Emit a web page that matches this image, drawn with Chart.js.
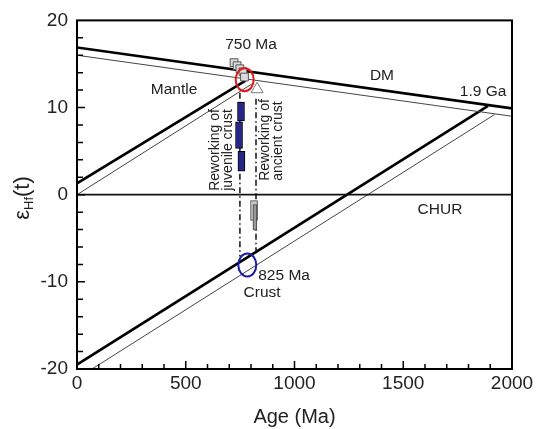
<!DOCTYPE html>
<html>
<head>
<meta charset="utf-8">
<script src="https://cdn.jsdelivr.net/npm/chart.js@4.4.0/dist/chart.umd.min.js"></script>
<style>
  html, body { margin: 0; padding: 0; background: #fff; }
</style>
</head>
<body>
<canvas id="hfChart" width="541" height="429"></canvas>
<script>
// evolution lines (age in Ma, epsilon Hf)
const dmAge = [0, 2000];
const dmEps = [16.9, 9.9];
const dmThinEps = [16.0, 9.0];
const churAge = [0, 2000];
const churEps = [0, 0];
const mantleAge = [0, 775];
const mantleEps = [1.3, 13.1];
const mantleThinAge = [0, 810];
const mantleThinEps = [0, 12.8];
const crustAge = [0, 1890];
const crustEps = [-19.5, 10.2];
const crustThinAge = [69, 1920];
const crustThinEps = [-20, 9.2];

// zircon data
const squareAge = [722, 736, 749, 763, 770];
const squareEps = [15.15, 14.8, 14.45, 14.1, 13.5];
const triangleAge = [828];
const triangleEps = [12.1];
const juvenileAge = [754, 745, 756];
const juvenileLo = [8.47, 5.31, 2.71];
const juvenileHi = [10.62, 8.36, 4.97];
const ancientAge = [814];
const ancientLo = [-2.94];
const ancientHi = [-0.68];
const ancientAge2 = [818];
const ancientLo2 = [-4.07];
const ancientHi2 = [-1.13];

// dash-dot guides
const guideAge = [749, 823];
const guideTop = [11.7, 11.0];
const guideBottom = [-7.1, -6.9];

// highlighted points (circled)
const ringAge = [771, 783];
const ringEps = [13.2, -8.06];

// labels
const noteText = ['750 Ma', 'Mantle', 'DM', '1.9 Ga', 'CHUR', '825 Ma', 'Crust'];
const noteAge = [800, 446, 1402, 1867, 1669, 952, 851];
const noteEps = [17.2, 12.0, 13.6, 11.8, -1.7, -9.3, -11.3];
const rotText = ['Reworking of', 'juvenile crust', 'Reworking of', 'ancient crust'];
const rotAge = [637, 694, 864, 926];
const rotEps = [0.45, 0.45, 1.6, 1.6];

const xTicks = [0, 500, 1000, 1500, 2000];
const yTicks = [-20, -10, 0, 10, 20];

const FONT = 'Arial, "Liberation Sans", Helvetica, sans-serif';

function pts(xs, ys) {
    return xs.map((v, i) => ({ x: v, y: ys[i] }));
}

function lineSet(xs, ys, width, color, order) {
    return {
        type: 'scatter',
        data: pts(xs, ys),
        showLine: true,
        borderColor: color,
        borderWidth: width,
        pointRadius: 0,
        order: order
    };
}

const datasets = [
    lineSet(dmAge, dmEps, 2.6, '#000', 10),
    lineSet(dmAge, dmThinEps, 1, '#444', 10),
    lineSet(churAge, churEps, 1.8, '#111', 10),
    lineSet(mantleAge, mantleEps, 2.6, '#000', 10),
    lineSet(mantleThinAge, mantleThinEps, 1, '#444', 10),
    lineSet(crustAge, crustEps, 2.6, '#000', 10),
    lineSet(crustThinAge, crustThinEps, 1, '#444', 10)
];

guideAge.forEach((a, i) => {
    const g = lineSet([a, a], [guideTop[i], guideBottom[i]], 1.5, '#111', 8);
    g.borderDash = [6, 3, 1.5, 3];
    datasets.push(g);
});

datasets.push({
    type: 'bar',
    data: juvenileAge.map((a, i) => ({ x: a, y: [juvenileLo[i], juvenileHi[i]] })),
    backgroundColor: '#27278a',
    borderColor: '#000',
    borderWidth: 1,
    borderSkipped: false,
    barThickness: 7,
    grouped: false,
    order: 4
});
datasets.push({
    type: 'bar',
    data: ancientAge.map((a, i) => ({ x: a, y: [ancientLo[i], ancientHi[i]] })),
    backgroundColor: '#c8c8c8',
    borderColor: '#444',
    borderWidth: 1,
    borderSkipped: false,
    barThickness: 7,
    grouped: false,
    order: 5
});
datasets.push({
    type: 'bar',
    data: ancientAge2.map((a, i) => ({ x: a, y: [ancientLo2[i], ancientHi2[i]] })),
    backgroundColor: '#9a9a9a',
    borderColor: '#444',
    borderWidth: 1,
    borderSkipped: false,
    barThickness: 4,
    grouped: false,
    order: 4
});
datasets.push({
    type: 'scatter',
    data: pts(squareAge, squareEps),
    pointStyle: 'rect',
    pointRadius: 5.5,
    backgroundColor: '#dcdcdc',
    borderColor: '#555',
    borderWidth: 1,
    order: 3
});
datasets.push({
    type: 'scatter',
    data: pts(triangleAge, triangleEps),
    pointStyle: 'triangle',
    pointRadius: 7,
    backgroundColor: '#fff',
    borderColor: '#777',
    borderWidth: 1,
    order: 2
});

const ringColors = ['#e01818', '#1a1aa8'];

const decorPlugin = {
    id: 'decor',
    afterDatasetsDraw(chart) {
        const { ctx, scales: { x, y } } = chart;
        // circled points
        ringAge.forEach((a, i) => {
            ctx.save();
            ctx.beginPath();
            ctx.ellipse(x.getPixelForValue(a), y.getPixelForValue(ringEps[i]), 9, 11.5, 0, 0, Math.PI * 2);
            ctx.strokeStyle = ringColors[i];
            ctx.lineWidth = 2;
            ctx.stroke();
            ctx.restore();
        });
    },
    afterDraw(chart) {
        const { ctx, chartArea: { left, right, top, bottom }, scales: { x, y } } = chart;
        ctx.save();
        // frame
        ctx.strokeStyle = '#000';
        ctx.lineWidth = 2;
        ctx.strokeRect(left, top, right - left, bottom - top);

        // inward ticks
        ctx.lineWidth = 1.5;
        ctx.beginPath();
        for (let v = 100; v < 2000; v += 100) {
            const px = x.getPixelForValue(v);
            const len = v % 500 === 0 ? 8 : 5;
            ctx.moveTo(px, bottom);
            ctx.lineTo(px, bottom - len);
        }
        for (let v = -18; v < 20; v += 2) {
            const py = y.getPixelForValue(v);
            const len = v % 10 === 0 ? 8 : 6;
            ctx.moveTo(left, py);
            ctx.lineTo(left + len, py);
        }
        ctx.stroke();

        // labels on the plot
        ctx.fillStyle = '#222';
        ctx.font = '15.5px ' + FONT;
        ctx.textAlign = 'center';
        ctx.textBaseline = 'middle';
        noteText.forEach((t, i) => {
            ctx.fillText(t, x.getPixelForValue(noteAge[i]), y.getPixelForValue(noteEps[i]));
        });

        ctx.font = '14px ' + FONT;
        ctx.textAlign = 'left';
        rotText.forEach((t, i) => {
            ctx.save();
            ctx.translate(x.getPixelForValue(rotAge[i]), y.getPixelForValue(rotEps[i]));
            ctx.rotate(-Math.PI / 2);
            ctx.fillText(t, 0, 0);
            ctx.restore();
        });

        // axis titles
        ctx.font = '20px ' + FONT;
        ctx.textAlign = 'center';
        ctx.textBaseline = 'alphabetic';
        ctx.fillText('Age (Ma)', (left + right) / 2, 423);

        ctx.save();
        ctx.translate(29, 198);
        ctx.rotate(-Math.PI / 2);
        ctx.textAlign = 'left';
        ctx.font = '22px ' + FONT;
        const w1 = ctx.measureText('\u03b5').width;
        const w3 = ctx.measureText('(t)').width;
        ctx.font = '13px ' + FONT;
        const w2 = ctx.measureText('Hf').width;
        let cx = -(w1 + w2 + w3) / 2;
        ctx.font = '22px ' + FONT;
        ctx.fillText('\u03b5', cx, 0);
        cx += w1;
        ctx.font = '13px ' + FONT;
        ctx.fillText('Hf', cx, 4);
        cx += w2;
        ctx.font = '22px ' + FONT;
        ctx.fillText('(t)', cx, 0);
        ctx.restore();

        ctx.restore();
    }
};

const ctx1 = document.querySelector('#hfChart').getContext('2d');

const chart1 = new Chart(ctx1, {
    type: 'scatter',
    data: { datasets: datasets },
    options: {
        responsive: false,
        animation: false,
        devicePixelRatio: 1,
        layout: { padding: { top: 15, right: 29, left: 0, bottom: 0 } },
        plugins: {
            legend: { display: false },
            tooltip: { enabled: false }
        },
        scales: {
            x: {
                type: 'linear',
                min: 0,
                max: 2000,
                offset: false,
                afterBuildTicks: s => { s.ticks = xTicks.map(v => ({ value: v })); },
                afterFit: s => { s.height = 60; },
                grid: { display: false, drawTicks: false },
                border: { display: false },
                ticks: {
                    padding: 3,
                    maxRotation: 0,
                    color: '#222',
                    font: { family: FONT, size: 19 },
                    callback: v => String(v)
                }
            },
            y: {
                type: 'linear',
                min: -20,
                max: 20,
                afterBuildTicks: s => { s.ticks = yTicks.map(v => ({ value: v })); },
                afterFit: s => { s.width = 77; },
                grid: { display: false, drawTicks: false },
                border: { display: false },
                ticks: {
                    padding: 9,
                    color: '#222',
                    font: { family: FONT, size: 19 },
                    callback: v => String(v)
                }
            }
        }
    },
    plugins: [decorPlugin]
});
</script>
</body>
</html>
